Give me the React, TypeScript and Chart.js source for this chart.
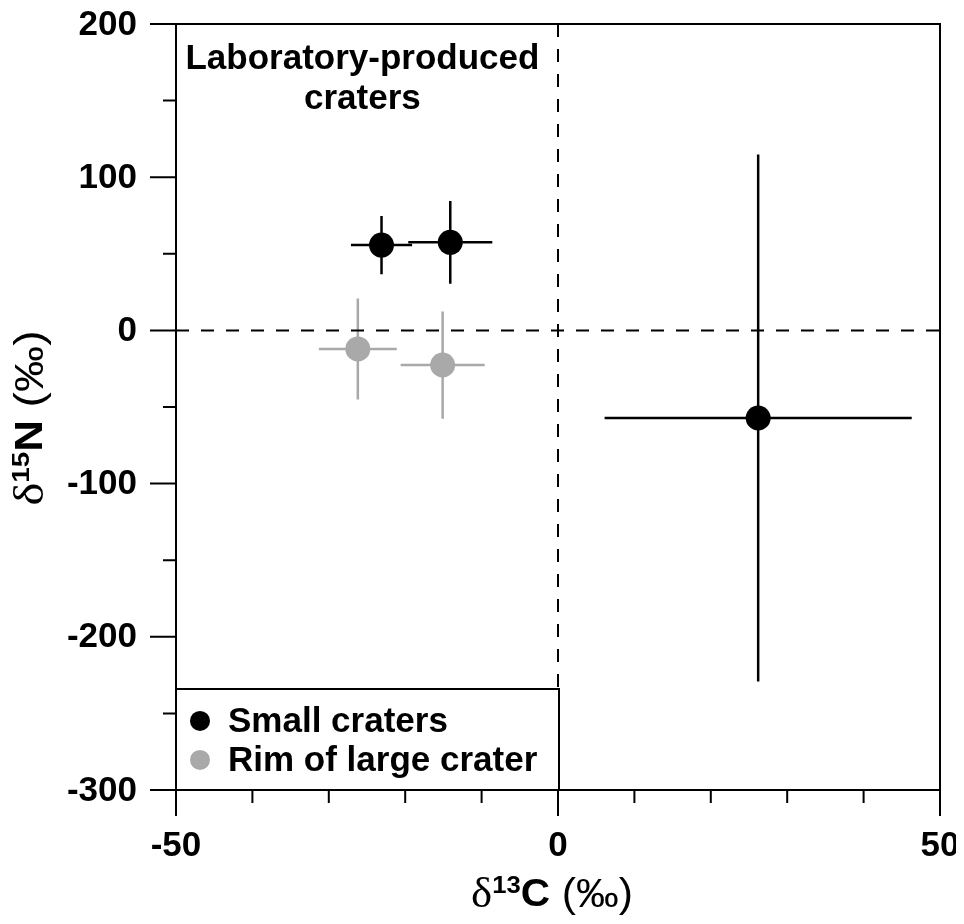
import React, { useEffect, useRef } from "react";
import { Chart, registerables } from "chart.js";
Chart.register(...registerables);

// ---- data ----
const seriesNames = ["Small craters", "Rim of large crater"];
const seriesColors = ["#000000", "#a9a9a9"];
const smallX = [-23.1, -14.1, 26.2];
const smallY = [55.7, 57.5, -57.2];
const smallXErr = [4.0, 5.5, 20.1];
const smallYErr = [19, 27, 172];
const rimX = [-26.2, -15.1];
const rimY = [-12.1, -22.6];
const rimXErr = [5.1, 5.5];
const rimYErr = [33, 35];
const xMin = -50, xMax = 50, xMinorStep = 10;
const yMin = -300, yMax = 200, yMinorStep = 50;
const xTickLabels = [-50, 0, 50];
const yTickLabels = [200, 100, 0, -100, -200, -300];
const titleLines = ["Laboratory-produced", "craters"];
const legendTopValue = -234;

const SANS = "'Liberation Sans', Arial, sans-serif";
const SERIF = "'Liberation Serif', 'Times New Roman', serif";

function drawRich(
  ctx: CanvasRenderingContext2D,
  parts: { t: string; f: string; dy?: number }[],
  cx: number,
  cy: number,
  targetWidth: number
) {
  let total = 0;
  for (const p of parts) { ctx.font = p.f; total += ctx.measureText(p.t).width; }
  const sx = targetWidth / total;
  ctx.save();
  ctx.translate(cx, cy);
  ctx.scale(sx, 1);
  let x = -total / 2;
  ctx.textBaseline = "middle";
  ctx.textAlign = "left";
  for (const p of parts) {
    ctx.font = p.f;
    ctx.fillText(p.t, x, p.dy || 0);
    x += ctx.measureText(p.t).width;
  }
  ctx.restore();
}

const decorPlugin = {
  id: "decor",
  beforeDatasetsDraw(chart: any) {
    const ctx = chart.ctx;
    const xs = chart.scales.x, ys = chart.scales.y;
    ctx.save();
    chart.data.datasets.forEach((ds: any) => {
      ctx.strokeStyle = ds.backgroundColor;
      ctx.lineWidth = 2.5;
      ds.data.forEach((p: any, i: number) => {
        const px = xs.getPixelForValue(p.x), py = ys.getPixelForValue(p.y);
        const x1 = xs.getPixelForValue(p.x - ds.xErr[i]);
        const x2 = xs.getPixelForValue(p.x + ds.xErr[i]);
        const y1 = ys.getPixelForValue(p.y - ds.yErr[i]);
        const y2 = ys.getPixelForValue(p.y + ds.yErr[i]);
        ctx.beginPath();
        ctx.moveTo(x1, py); ctx.lineTo(x2, py);
        ctx.moveTo(px, y1); ctx.lineTo(px, y2);
        ctx.stroke();
      });
    });
    ctx.restore();
  },
  afterDatasetsDraw(chart: any) {
    const ctx = chart.ctx;
    const xs = chart.scales.x, ys = chart.scales.y;
    const a = chart.chartArea;
    ctx.save();
    // dashed zero lines
    ctx.strokeStyle = "#000";
    ctx.lineWidth = 2;
    ctx.setLineDash([13, 12]);
    const y0 = ys.getPixelForValue(0);
    const x0 = xs.getPixelForValue(0);
    const legTop = ys.getPixelForValue(legendTopValue);
    ctx.beginPath();
    ctx.moveTo(a.left, y0); ctx.lineTo(a.right, y0);
    ctx.moveTo(x0, a.top); ctx.lineTo(x0, legTop);
    ctx.stroke();
    ctx.setLineDash([]);

    // legend box
    ctx.fillStyle = "#fff";
    ctx.fillRect(a.left, legTop, x0 + 1 - a.left, a.bottom - legTop);
    ctx.beginPath();
    ctx.moveTo(a.left, legTop); ctx.lineTo(x0 + 1, legTop); ctx.lineTo(x0 + 1, a.bottom);
    ctx.stroke();
    seriesNames.forEach((name, i) => {
      const cy = legTop + 32 + i * 39;
      ctx.fillStyle = seriesColors[i];
      ctx.beginPath();
      ctx.arc(a.left + 24, cy, 10, 0, Math.PI * 2);
      ctx.fill();
      ctx.fillStyle = "#000";
      ctx.font = `bold 35px ${SANS}`;
      ctx.textBaseline = "middle";
      ctx.textAlign = "left";
      ctx.fillText(name, a.left + 52, cy + 1);
    });

    // title text
    ctx.fillStyle = "#000";
    ctx.font = `bold 35px ${SANS}`;
    ctx.textAlign = "center";
    ctx.textBaseline = "middle";
    const tcx = xs.getPixelForValue(-25.6);
    titleLines.forEach((t, i) => ctx.fillText(t, tcx, a.top + 35 + i * 40));

    // frame
    ctx.lineWidth = 2;
    ctx.strokeRect(a.left, a.top, a.right - a.left, a.bottom - a.top);

    // ticks
    ctx.beginPath();
    for (let v = xMin; v <= xMax; v += xMinorStep) {
      const px = xs.getPixelForValue(v);
      const len = xTickLabels.includes(v) ? 26 : 13;
      ctx.moveTo(px, a.bottom); ctx.lineTo(px, a.bottom + len);
    }
    for (let v = yMin; v <= yMax; v += yMinorStep) {
      const py = ys.getPixelForValue(v);
      const len = yTickLabels.includes(v) ? 26 : 13;
      ctx.moveTo(a.left, py); ctx.lineTo(a.left - len, py);
    }
    ctx.stroke();

    // tick labels
    ctx.fillStyle = "#000";
    ctx.font = `bold 35px ${SANS}`;
    ctx.textBaseline = "middle";
    ctx.textAlign = "center";
    xTickLabels.forEach((v) => ctx.fillText(String(v), xs.getPixelForValue(v), a.bottom + 56));
    ctx.textAlign = "right";
    yTickLabels.forEach((v) => ctx.fillText(String(v), a.left - 39, ys.getPixelForValue(v) + 1));

    // axis titles
    drawRich(ctx, [
      { t: "δ", f: `42px ${SERIF}` },
      { t: "13", f: `bold 24px ${SANS}`, dy: -10 },
      { t: "C", f: `bold 38px ${SANS}` },
      { t: " (‰)", f: `40px ${SANS}` },
    ], 552, a.bottom + 106, 162);
    ctx.save();
    ctx.translate(32, 418);
    ctx.rotate(-Math.PI / 2);
    drawRich(ctx, [
      { t: "δ", f: `42px ${SERIF}` },
      { t: "15", f: `bold 24px ${SANS}`, dy: -10 },
      { t: "N", f: `bold 38px ${SANS}` },
      { t: " (‰)", f: `40px ${SANS}` },
    ], 0, 0, 175);
    ctx.restore();
    ctx.restore();
  },
};

export default function App() {
  const ref = useRef<HTMLCanvasElement>(null);
  useEffect(() => {
    if (!ref.current) return;
    const mk = (xs: number[], ys: number[]) => xs.map((x, i) => ({ x, y: ys[i] }));
    const chart = new Chart(ref.current, {
      type: "scatter",
      data: {
        datasets: [
          {
            label: seriesNames[0],
            data: mk(smallX, smallY),
            backgroundColor: seriesColors[0],
            borderWidth: 0,
            pointRadius: 12.5,
            xErr: smallXErr,
            yErr: smallYErr,
          } as any,
          {
            label: seriesNames[1],
            data: mk(rimX, rimY),
            backgroundColor: seriesColors[1],
            borderWidth: 0,
            pointRadius: 12.5,
            xErr: rimXErr,
            yErr: rimYErr,
          } as any,
        ],
      },
      options: {
        responsive: false,
        animation: false,
        devicePixelRatio: 1,
        layout: { padding: { top: 24, right: 24, left: 0, bottom: 0 } },
        plugins: { legend: { display: false }, tooltip: { enabled: false } },
        scales: {
          x: {
            type: "linear",
            min: xMin,
            max: xMax,
            grid: { display: false },
            border: { display: true, color: "#000", width: 2 },
            ticks: { display: false },
            afterFit: (s: any) => {
              s.height = 134;
              s.paddingLeft = 0; s.paddingRight = 0; s.paddingTop = 0; s.paddingBottom = 0;
            },
          },
          y: {
            type: "linear",
            min: yMin,
            max: yMax,
            grid: { display: false },
            border: { display: true, color: "#000", width: 2 },
            ticks: { display: false },
            afterFit: (s: any) => {
              s.width = 176;
              s.paddingLeft = 0; s.paddingRight = 0; s.paddingTop = 0; s.paddingBottom = 0;
            },
          },
        },
      } as any,
      plugins: [decorPlugin],
    });
    return () => chart.destroy();
  }, []);
  return (
    <div style={{ margin: -8, width: 964, height: 924, overflow: "hidden" }}>
      <canvas ref={ref} width={964} height={924} style={{ display: "block", width: 964, height: 924 }} />
    </div>
  );
}
